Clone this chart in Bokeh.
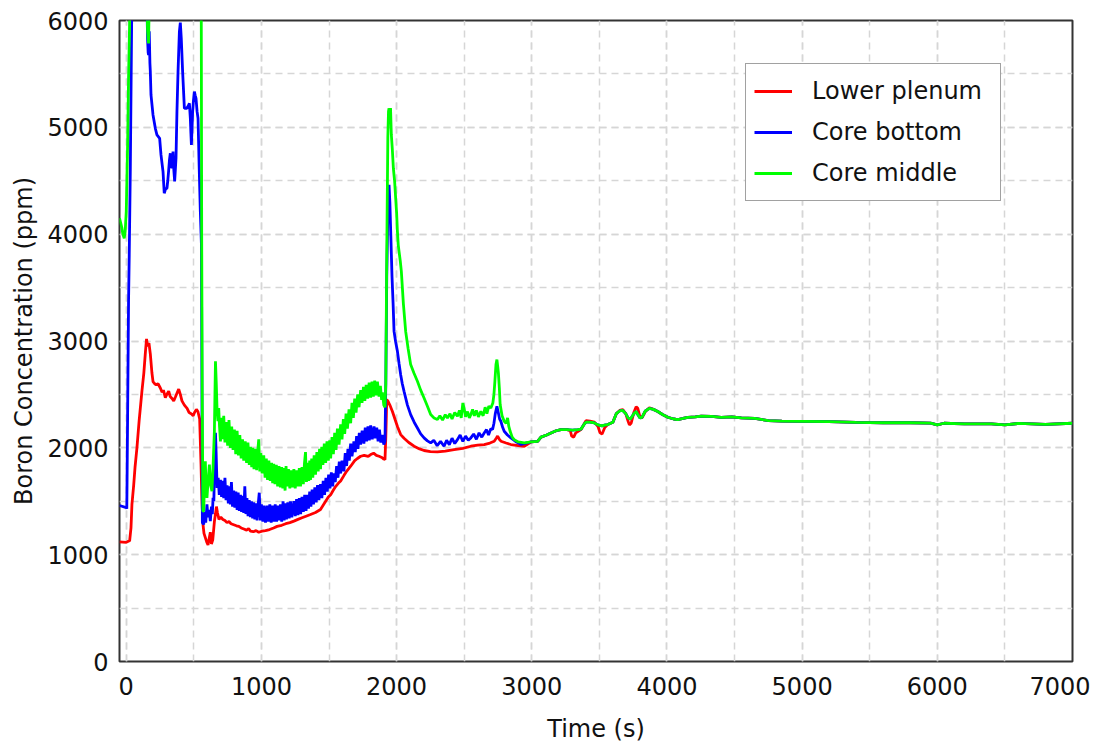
from bokeh.plotting import figure
from bokeh.models import SingleIntervalTicker, Legend, LegendItem, Range1d
from bokeh.embed import file_html
from bokeh.resources import INLINE

# ---------------- data ----------------
# shared tail (all three series coincide)
tail_t = [3932, 3970, 4006, 4050, 4080, 4120, 4154, 4210, 4253, 4330, 4401, 4480, 4550, 4650,
          4750, 4850, 5000, 5200, 5400, 5600, 5800, 5950, 6000, 6050, 6200, 6400, 6500, 6600, 6800, 7000]
tail_v = [2340, 2310, 2286, 2270, 2265, 2275, 2286, 2290, 2296, 2295, 2286, 2290, 2280, 2275,
          2255, 2250, 2248, 2245, 2238, 2235, 2235, 2232, 2215, 2230, 2225, 2225, 2215, 2228, 2220, 2230]

# middle section shared by core bottom / core middle
mid_t = [2994, 3043, 3068, 3110, 3142, 3180, 3216, 3260, 3300, 3340, 3364, 3390, 3401, 3430, 3463,
         3490, 3520, 3545, 3562, 3600, 3625, 3650, 3673, 3695, 3712, 3730, 3755, 3772, 3784, 3800,
         3815, 3840, 3870, 3900]
mid_v = [2055, 2060, 2100, 2120, 2139, 2160, 2171, 2170, 2165, 2170, 2175, 2225, 2240, 2240, 2233,
         2215, 2205, 2215, 2218, 2240, 2320, 2345, 2350, 2320, 2280, 2270, 2320, 2340, 2311, 2280,
         2285, 2345, 2370, 2360]

lower_t = [-50, 0, 15, 25, 35, 42, 55, 65, 79, 95, 116, 130, 142, 150, 158, 168, 178, 190, 198, 210,
           222, 235, 252, 265, 275, 289, 300, 314, 325, 340, 351, 365, 378, 388, 400, 412, 430, 450,
           465, 480, 495, 505, 519, 530, 543, 553, 560, 568, 575, 585, 595, 605, 613, 622, 630, 640,
           652, 660, 667, 675, 686, 700, 715, 730, 745, 760, 775, 795, 815, 833, 850, 870, 890, 905,
           919, 940, 960, 980, 1005, 1030, 1060, 1090, 1116, 1150, 1180, 1210, 1240, 1270, 1300,
           1330, 1363, 1400, 1437, 1460, 1475, 1495, 1512, 1530, 1550, 1570, 1586, 1610, 1630, 1660,
           1690, 1710, 1734, 1760, 1790, 1808, 1830, 1850, 1870, 1890, 1905, 1914, 1920, 1927, 1935,
           1950, 1969, 1990, 2006, 2030, 2055, 2090, 2129, 2170, 2203, 2250, 2302, 2360, 2425, 2490,
           2549, 2600, 2648, 2690, 2722, 2737, 2747, 2760, 2772, 2810, 2845, 2900, 2944, 2994, 3043,
           3068, 3110, 3142, 3180, 3216, 3260, 3285, 3295, 3310, 3325, 3364, 3390, 3401, 3430, 3463,
           3490, 3505, 3520, 3540, 3562, 3600, 3625, 3650, 3673, 3695, 3712, 3722, 3735, 3755, 3772,
           3784, 3800, 3815, 3840, 3870, 3900]
lower_v = [1120, 1115, 1125, 1130, 1250, 1470, 1650, 1820, 2000, 2250, 2530, 2700, 2900, 3020, 2950,
           2980, 2880, 2700, 2620, 2600, 2590, 2600, 2560, 2520, 2540, 2470, 2500, 2530, 2480, 2460,
           2440, 2480, 2520, 2550, 2500, 2440, 2400, 2370, 2330, 2320, 2300, 2330, 2360, 2340, 2270,
           1850, 1500, 1280, 1200, 1160, 1120, 1090, 1150, 1210, 1100, 1140, 1310, 1380, 1450, 1390,
           1330, 1350, 1330, 1320, 1300, 1310, 1290, 1280, 1270, 1265, 1250, 1240, 1230, 1245, 1220,
           1215, 1225, 1210, 1220, 1225, 1235, 1250, 1265, 1275, 1290, 1300, 1314, 1330, 1345, 1360,
           1376, 1395, 1423, 1470, 1500, 1540, 1560, 1600, 1640, 1670, 1690, 1740, 1780, 1828, 1880,
           1900, 1921, 1930, 1920, 1937, 1950, 1930, 1921, 1910, 1895, 1890, 2100, 2451, 2440, 2400,
           2340, 2260, 2200, 2124, 2090, 2050, 2015, 1990, 1975, 1965, 1962, 1970, 1984, 1995, 2015,
           2025, 2031, 2045, 2062, 2090, 2110, 2080, 2062, 2045, 2031, 2020, 2015, 2055, 2060, 2100,
           2120, 2139, 2160, 2171, 2170, 2160, 2110, 2100, 2140, 2171, 2230, 2255, 2250, 2240, 2200,
           2140, 2130, 2190, 2218, 2240, 2320, 2350, 2358, 2320, 2250, 2215, 2230, 2330, 2385, 2370,
           2290, 2280, 2340, 2375, 2360]

# ---- Core bottom: early part, noisy trough, spike + decay ----
bottom_a_t = [-50, 0, 4, 6, 10, 17, 22, 30, 40, 50,
              100, 140, 152, 158, 162, 165, 170, 175, 178, 183,
              198, 215, 227, 247, 257, 272, 281, 290, 301, 307,
              313, 320, 326, 332, 338, 346, 352, 358, 363, 368,
              375, 383, 393, 400, 407, 417, 430, 440, 449, 458,
              467, 474, 478, 482, 487, 491, 497, 504, 510, 516,
              524, 531, 539, 548, 556, 560, 563, 573, 580, 588,
              597, 605, 612, 622, 630, 637, 642, 648, 654, 660,
              665, 672]
bottom_a_v = [1460, 1440, 1430, 1700, 2300, 3370, 3800, 4600, 6000, 7200,
              7800, 7000, 6200, 5817, 5700, 5677, 5900, 5600, 5521, 5303,
              5116, 4991, 4929, 4897, 4742, 4586, 4383, 4420, 4430, 4500,
              4586, 4700, 4757, 4650, 4617, 4773, 4600, 4493, 4600, 4711,
              5147, 5521, 5895, 5980, 5833, 5521, 5178, 5180, 5178, 5200,
              5225, 5085, 4950, 4836, 5000, 5147, 5250, 5334, 5300, 5272,
              5147, 5085, 4649, 4212, 3901, 2500, 1300, 1283, 1400, 1300,
              1470, 1350, 1420, 1314, 1450, 1380, 1532, 1500, 1900, 2140,
              1950, 1625]
bottom_b_t = [680, 688, 697, 705, 713, 721, 730, 738, 746, 755,
              763, 770, 778, 786, 795, 803, 811, 820, 828, 836,
              845, 853, 861, 869, 877, 885, 893, 901, 910, 918,
              926, 935, 943, 951, 960, 968, 976, 984, 992, 1000,
              1010, 1020, 1030, 1043, 1052, 1062, 1072, 1082, 1092, 1102,
              1112, 1122, 1132, 1141, 1150, 1160, 1168, 1176, 1185, 1195,
              1205, 1215, 1225, 1240, 1250, 1260, 1270, 1280, 1290, 1300,
              1310, 1320, 1330, 1339, 1348, 1357, 1366, 1375, 1385, 1395,
              1405, 1415, 1425, 1437, 1447, 1457, 1467, 1477, 1487, 1497,
              1507, 1517, 1527, 1536, 1546, 1556, 1566, 1576, 1586, 1596,
              1610, 1620, 1630, 1640, 1650, 1660, 1670, 1684, 1694, 1704,
              1714, 1724, 1734, 1745, 1758, 1768, 1778, 1788, 1798, 1808,
              1820, 1833, 1843, 1853, 1863, 1873, 1883, 1895, 1905]
bottom_b_v = [1720, 1560, 1700, 1540, 1690, 1530, 1720, 1510, 1650, 1480,
              1640, 1470, 1680, 1450, 1600, 1440, 1590, 1420, 1580, 1410,
              1560, 1400, 1550, 1390, 1640, 1380, 1530, 1360, 1510, 1350,
              1500, 1340, 1490, 1330, 1480, 1320, 1470, 1580, 1320, 1470,
              1310, 1460, 1300, 1460, 1310, 1470, 1300, 1460, 1310, 1470,
              1310, 1460, 1320, 1470, 1310, 1500, 1320, 1480, 1330, 1490,
              1340, 1500, 1350, 1500, 1360, 1520, 1370, 1530, 1380, 1540,
              1400, 1560, 1410, 1560, 1430, 1590, 1450, 1610, 1470, 1630,
              1490, 1650, 1510, 1660, 1530, 1690, 1560, 1720, 1590, 1750,
              1620, 1770, 1640, 1760, 1680, 1830, 1720, 1870, 1760, 1880,
              1780, 1950, 1830, 1990, 1880, 2040, 1920, 2060, 1960, 2110,
              1990, 2140, 2030, 2160, 2040, 2190, 2060, 2200, 2070, 2210,
              2080, 2200, 2090, 2190, 2060, 2170, 2050, 2120, 2030]
bottom_c_t = [1914, 1920, 1927, 1935, 1944, 1950, 1958, 1966, 1974, 1981,
              1993, 2006, 2018, 2030, 2042, 2055, 2080, 2104, 2130, 2154,
              2178, 2203, 2228, 2252, 2275, 2300, 2325, 2351, 2370, 2390,
              2410, 2430, 2450, 2470, 2490, 2510, 2530, 2549, 2570, 2590,
              2610, 2630, 2648, 2665, 2680, 2697, 2710, 2720, 2730, 2742,
              2752, 2762, 2771, 2785, 2796, 2820, 2845, 2880, 2920, 2944]
bottom_c_v = [2062, 2600, 3600, 4200, 4462, 4300, 3950, 3600, 3350, 3090,
              2990, 2903, 2790, 2685, 2600, 2529, 2400, 2311, 2240, 2186,
              2130, 2093, 2065, 2046, 2070, 2020, 2060, 2015, 2070, 2030,
              2090, 2040, 2077, 2120, 2060, 2110, 2070, 2093, 2130, 2080,
              2140, 2100, 2139, 2170, 2120, 2180, 2171, 2230, 2320, 2389,
              2330, 2270, 2249, 2190, 2155, 2120, 2093, 2060, 2031, 2040]

# ---- Core middle: early part, noisy trough, spike + decay ----
middle_a_t = [-50, -40, -32, -25, -15, -8, 0, 10, 17, 24,
              30, 60, 120, 150, 158, 165, 170, 180, 300, 500,
              550, 555, 558, 562, 567, 573, 579, 585, 591, 597,
              606, 615, 624, 634, 643, 652, 656, 660, 666, 672,
              678, 684, 690]
middle_a_v = [4150, 4100, 4056, 4000, 3962, 4025, 4212, 4836, 5459, 5926,
              6500, 7500, 7200, 6300, 5900, 5786, 6200, 7000, 7500, 7500,
              7000, 6000, 4000, 2500, 1407, 1407, 1700, 1875, 1600, 1532,
              1700, 1844, 1650, 1594, 1850, 2155, 2500, 2810, 2600, 2342,
              2250, 2373, 2200]
middle_b_t = [697, 705, 712, 721, 730, 740, 750, 760, 770, 780,
              790, 800, 810, 820, 830, 840, 850, 860, 869, 880,
              890, 900, 910, 919, 928, 936, 945, 955, 965, 972,
              980, 988, 995, 1005, 1017, 1027, 1036, 1045, 1055, 1065,
              1075, 1083, 1091, 1100, 1110, 1120, 1130, 1140, 1150, 1158,
              1166, 1175, 1182, 1190, 1200, 1210, 1220, 1230, 1240, 1250,
              1260, 1270, 1280, 1289, 1300, 1310, 1318, 1326, 1333, 1341,
              1350, 1357, 1363, 1372, 1380, 1390, 1400, 1410, 1420, 1430,
              1437, 1446, 1455, 1465, 1475, 1485, 1495, 1505, 1512, 1522,
              1532, 1542, 1552, 1562, 1574, 1586, 1596, 1606, 1616, 1626,
              1636, 1648, 1660, 1670, 1680, 1690, 1700, 1712, 1722, 1734,
              1744, 1755, 1765, 1775, 1786, 1797, 1808, 1818, 1828, 1838,
              1848, 1858, 1870, 1880, 1889, 1895, 1905, 1914]
middle_b_v = [2060, 2280, 2080, 2300, 2050, 2240, 2020, 2260, 2000, 2200,
              1980, 2170, 1940, 2160, 1930, 2120, 1900, 2080, 1880, 2060,
              1860, 2050, 1840, 2010, 1820, 2000, 1800, 1990, 1790, 1960,
              2080, 1780, 1950, 1760, 1930, 1720, 1900, 1700, 1880, 1690,
              1860, 1670, 1850, 1660, 1840, 1640, 1830, 1630, 1820, 1620,
              1810, 1600, 1830, 1640, 1800, 1620, 1790, 1630, 1800, 1620,
              1790, 1640, 1810, 1640, 1820, 1660, 1850, 1960, 1680, 1860,
              1690, 1880, 1700, 1900, 1720, 1930, 1750, 1960, 1780, 1990,
              1800, 2010, 1840, 2040, 1860, 2060, 1880, 2070, 1900, 2100,
              1940, 2140, 1980, 2180, 2030, 2220, 2080, 2270, 2130, 2320,
              2180, 2360, 2230, 2420, 2280, 2460, 2330, 2500, 2380, 2540,
              2420, 2570, 2440, 2590, 2460, 2610, 2470, 2620, 2480, 2630,
              2490, 2620, 2480, 2580, 2450, 2520, 2400, 2380]
middle_c_t = [1920, 1927, 1935, 1940, 1944, 1950, 1955, 1961, 1968, 1976,
              1985, 1993, 2000, 2006, 2012, 2018, 2027, 2035, 2050, 2067,
              2085, 2104, 2128, 2154, 2178, 2203, 2228, 2252, 2277, 2302,
              2320, 2340, 2360, 2376, 2395, 2410, 2430, 2450, 2465, 2478,
              2490, 2499, 2510, 2525, 2538, 2549, 2562, 2575, 2590, 2605,
              2623, 2640, 2655, 2668, 2682, 2697, 2712, 2720, 2727, 2735,
              2742, 2748, 2753, 2760, 2766, 2780, 2796, 2810, 2821, 2830,
              2840, 2855, 2870, 2900, 2944]
middle_c_v = [2600, 3800, 4900, 5150, 5178, 5120, 5180, 4929, 4800, 4617,
              4500, 4337, 4200, 4025, 3900, 3838, 3750, 3651, 3350, 3090,
              2930, 2779, 2700, 2623, 2540, 2467, 2390, 2311, 2280, 2265,
              2300, 2260, 2310, 2280, 2320, 2270, 2330, 2296, 2350, 2280,
              2420, 2373, 2290, 2340, 2280, 2311, 2360, 2300, 2350, 2290,
              2342, 2300, 2380, 2320, 2390, 2373, 2420, 2500, 2623, 2780,
              2826, 2760, 2700, 2560, 2405, 2300, 2249, 2230, 2280, 2200,
              2155, 2100, 2077, 2055, 2046]

series_names = ["Lower plenum", "Core bottom", "Core middle"]
series_colors = ["#ff0000", "#0000ff", "#00ff00"]

x_ticks_interval = 1000
y_ticks_interval = 1000

# ---------------- build full series ----------------
lp_t = lower_t + tail_t
lp_v = lower_v + tail_v
cb_t = bottom_a_t + bottom_b_t + bottom_c_t + mid_t + tail_t
cb_v = bottom_a_v + bottom_b_v + bottom_c_v + mid_v + tail_v
cm_t = middle_a_t + middle_b_t + middle_c_t + mid_t + tail_t
cm_v = middle_a_v + middle_b_v + middle_c_v + mid_v + tail_v

FONT = "DejaVu Sans"

p = figure(width=1090, height=747,
           min_border_left=119, min_border_right=18, min_border_top=20, min_border_bottom=86,
           x_range=Range1d(-50, 7000), y_range=Range1d(0, 6000),
           output_backend="svg", toolbar_location=None,
           x_axis_label="Time (s)", y_axis_label="Boron Concentration (ppm)")

p.xaxis.ticker = SingleIntervalTicker(interval=x_ticks_interval, num_minor_ticks=2)
p.yaxis.ticker = SingleIntervalTicker(interval=y_ticks_interval, num_minor_ticks=2)

for ax in (p.xaxis[0], p.yaxis[0]):
    ax.axis_line_color = None
    ax.major_tick_line_color = None
    ax.minor_tick_line_color = None
    ax.major_tick_out = 0
    ax.major_tick_in = 0
    ax.major_label_text_font = FONT
    ax.major_label_text_font_size = "24px"
    ax.major_label_text_color = "#111111"
    ax.axis_label_text_font = FONT
    ax.axis_label_text_font_size = "24px"
    ax.axis_label_text_font_style = "normal"
    ax.axis_label_text_color = "#111111"

p.xaxis[0].major_label_standoff = 11
p.xaxis[0].axis_label_standoff = 17
p.yaxis[0].major_label_standoff = 7
p.yaxis[0].axis_label_standoff = 6

for g in (p.xgrid[0], p.ygrid[0]):
    g.grid_line_color = "#d6d6d6"
    g.grid_line_width = 1.5
    g.grid_line_dash = "7 5"
    g.minor_grid_line_color = "#d6d6d6"
    g.minor_grid_line_width = 1.5
    g.minor_grid_line_dash = "7 5"

p.outline_line_color = "#333333"
p.outline_line_width = 2
p.outline_line_alpha = 1.0
p.background_fill_color = "white"
p.border_fill_color = "white"

r1 = p.line(lp_t, lp_v, line_color=series_colors[0], line_width=2.8)
r2 = p.line(cb_t, cb_v, line_color=series_colors[1], line_width=2.8)
r3 = p.line(cm_t, cm_v, line_color=series_colors[2], line_width=2.8)

legend = Legend(items=[LegendItem(label=series_names[0], renderers=[r1]),
                       LegendItem(label=series_names[1], renderers=[r2]),
                       LegendItem(label=series_names[2], renderers=[r3])],
                location=(626, 460))
legend.label_text_font = FONT
legend.label_text_font_size = "24px"
legend.label_text_color = "#111111"
legend.glyph_width = 38
legend.glyph_height = 38
legend.label_height = 38
legend.label_width = 180
legend.label_standoff = 20
legend.spacing = 3
legend.padding = 8
legend.margin = 0
legend.border_line_color = "#444444"
legend.border_line_width = 1.5
legend.background_fill_color = "white"
legend.background_fill_alpha = 1.0
p.add_layout(legend, "center")

open("out.html", "w").write(file_html(p, INLINE))
